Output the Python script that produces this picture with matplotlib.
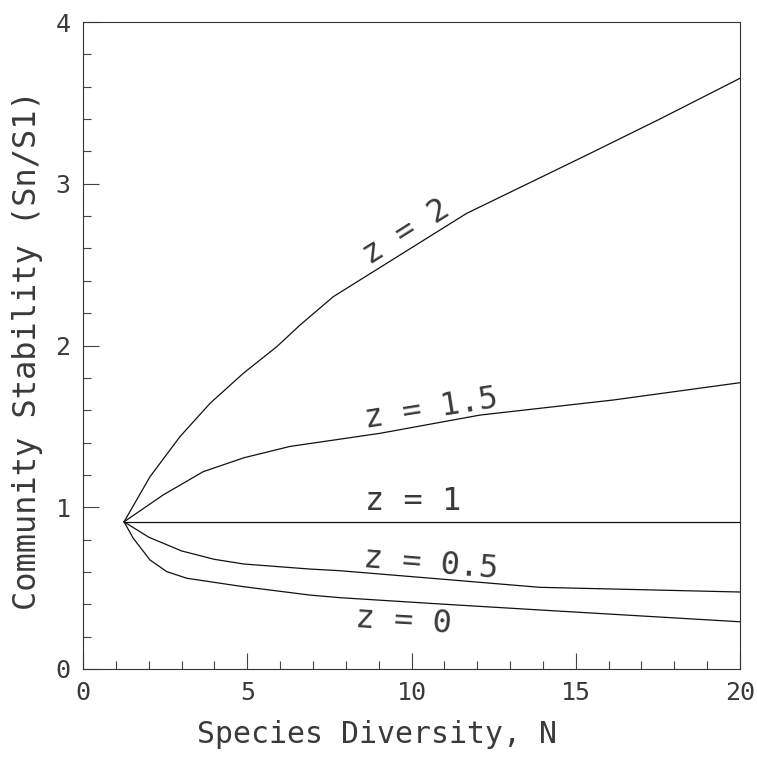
"""
Community stability vs species diversity for several values of z.
Values read off the reference figure.
"""

import matplotlib
matplotlib.use("Agg")
import matplotlib.pyplot as plt
from matplotlib.ticker import MultipleLocator

# curve data (N, Sn/S1)
n_z2 = [1.25, 2.04, 2.95, 3.87, 4.88, 5.90, 6.61, 7.62, 11.68, 15.23, 17.56, 20.0]
s_z2 = [0.91, 1.189, 1.436, 1.643, 1.828, 1.993, 2.127, 2.302, 2.817, 3.167, 3.40, 3.652]

n_z15 = [1.25, 2.44, 3.66, 4.90, 6.30, 9.04, 12.09, 16.14, 20.0]
s_z15 = [0.91, 1.076, 1.22, 1.306, 1.376, 1.457, 1.570, 1.663, 1.770]

n_z1 = [1.25, 20.0]
s_z1 = [0.91, 0.91]

n_z05 = [1.25, 2.0, 3.0, 4.0, 4.9, 6.9, 7.8, 10.9, 13.9, 20.0]
s_z05 = [0.91, 0.815, 0.73, 0.678, 0.649, 0.618, 0.608, 0.556, 0.505, 0.476]

n_z0 = [1.25, 1.53, 2.04, 2.55, 3.16, 4.88, 6.91, 7.82, 10.87, 13.9, 20.0]
s_z0 = [0.91, 0.808, 0.674, 0.602, 0.561, 0.509, 0.457, 0.441, 0.402, 0.365, 0.292]

# curve labels: text, anchor (N, S), rotation in degrees
label_text = ["z = 2", "z = 1.5", "z = 1", "z = 0.5", "z = 0"]
label_pos = [(8.75, 2.50), (8.61, 1.49), (8.58, 0.983), (8.53, 0.632), (8.28, 0.262)]
label_rot = [32, 9, 0, -4.7, -3.5]

FONT = "DejaVu Sans Mono"
INK = "#3a3a3a"


def main():
    fig = plt.figure(figsize=(7.57, 7.61), dpi=100)
    ax = fig.add_axes([83 / 757, 92 / 761, 657 / 757, 647 / 761])

    for n, s in [(n_z2, s_z2), (n_z15, s_z15), (n_z1, s_z1), (n_z05, s_z05), (n_z0, s_z0)]:
        ax.plot(n, s, color="#111111", lw=0.9)

    for txt, (x, y), rot in zip(label_text, label_pos, label_rot):
        ax.text(x, y, txt, family=FONT, fontsize=23, color=INK,
                rotation=rot, rotation_mode="anchor", ha="left", va="baseline")

    ax.set_xlim(0, 20)
    ax.set_ylim(0, 4)
    ax.xaxis.set_major_locator(MultipleLocator(5))
    ax.xaxis.set_minor_locator(MultipleLocator(1))
    ax.yaxis.set_major_locator(MultipleLocator(1))
    ax.yaxis.set_minor_locator(MultipleLocator(0.2))
    ax.tick_params(which="both", direction="in", top=False, right=False,
                   color="#444444", width=0.8)
    ax.tick_params(which="major", length=11.5, labelsize=18, labelcolor=INK)
    ax.tick_params(axis="x", which="major", pad=9)
    ax.tick_params(axis="y", which="major", pad=9)
    ax.tick_params(which="minor", length=6)
    for lab in ax.get_xticklabels() + ax.get_yticklabels():
        lab.set_family(FONT)

    for side in ["left", "bottom", "right", "top"]:
        ax.spines[side].set_color("#333333")
        ax.spines[side].set_linewidth(0.8)

    ax.set_xlabel("Species Diversity, N", family=FONT, fontsize=21.5, color=INK, va="center")
    ax.xaxis.set_label_coords(0.448, -0.102)
    ax.set_ylabel("Community Stability (Sn/S1)", family=FONT, fontsize=23, color=INK, va="center")
    ax.yaxis.set_label_coords(-0.084, 0.493)

    fig.savefig("out.png", dpi=100)


if __name__ == "__main__":
    main()
